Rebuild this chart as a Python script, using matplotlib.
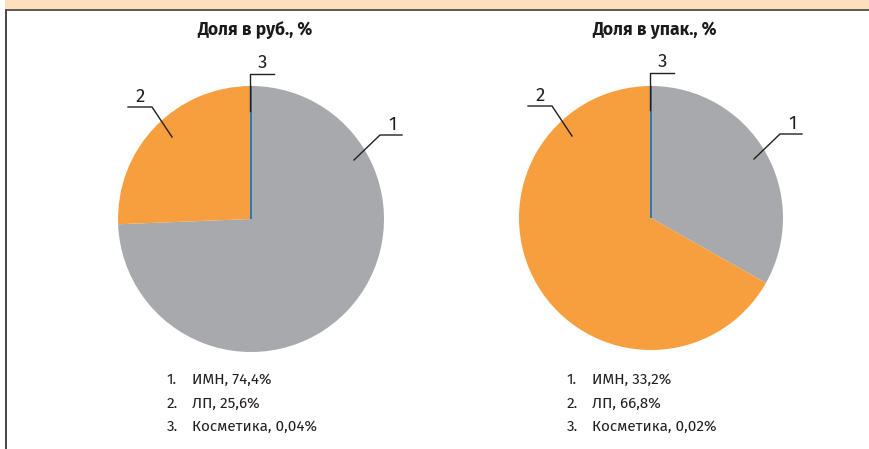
import matplotlib.pyplot as plt
from matplotlib.patches import Rectangle

# данные
titles = ['Доля в руб., %', 'Доля в упак., %']
categories = ['ИМН', 'ЛП', 'Косметика']
rub_values = [74.4, 25.6, 0.04]
pack_values = [33.2, 66.8, 0.02]
rub_labels = ['74,4%', '25,6%', '0,04%']
pack_labels = ['33,2%', '66,8%', '0,02%']

colors = ['#a7a9ac', '#f79f3e', '#2b7bba']
W, H = 870, 449

plt.rcParams['font.family'] = ['Fira Sans', 'Roboto', 'DejaVu Sans']

fig = plt.figure(figsize=(W / 100, H / 100), dpi=100)
ax = fig.add_axes([0, 0, 1, 1])

# рамка сверху и слева
ax.add_patch(Rectangle((5.5, H - 9), W, 9, color='#fddfbc', lw=0))
ax.add_patch(Rectangle((5.5, H - 11), W, 2, color='#5e5b58', lw=0))
ax.add_patch(Rectangle((5.3, 0), 1.5, H - 10, color='#4a4a4a', lw=0))

panels = [
    (rub_values, rub_labels, 251, H - 219, 133),
    (pack_values, pack_labels, 651, H - 218, 132),
]

for i, (vals, labs, cx, cy, r) in enumerate(panels):
    wedges, _ = ax.pie(vals, startangle=90, counterclock=False, colors=colors,
                       center=(cx, cy), radius=r,
                       wedgeprops=dict(linewidth=0))
    wedges[2].set_edgecolor(colors[2])
    wedges[2].set_linewidth(1.0)

    ax.text(cx + 4, H - 30, titles[i], ha='center', va='center',
            fontsize=12.5, fontweight='bold', color='#1a1a1a')

    # выноски
    leaders = [
        ([cx + 103, cx + 129, cx + 151], [cy + 59, cy + 84, cy + 84], cx + 141, cy + 94),
        ([cx - 79, cx - 99, cx - 123], [cy + 82, cy + 112, cy + 112], cx - 111, cy + 122),
        ([cx - 1, cx - 1, cx + 23], [cy + 108, cy + 145, cy + 145], cx + 11, cy + 156),
    ]
    for k, (xs, ys, tx, ty) in enumerate(leaders):
        ax.plot(xs, ys, color='#231f20', lw=1.0)
        ax.text(tx, ty, str(k + 1), ha='center', va='center', fontsize=13.5,
                color='#231f20')

    # подписи
    for k, (name, lab) in enumerate(zip(categories, labs)):
        y = H - 380 - k * 23.5
        ax.text(cx - 84, y, f'{k + 1}.', ha='left', va='center', fontsize=11,
                color='#231f20')
        ax.text(cx - 59, y, f'{name}, {lab}', ha='left', va='center',
                fontsize=11, color='#231f20')

ax.set_xlim(0, W)
ax.set_ylim(0, H)
ax.set_aspect('equal')
ax.axis('off')
fig.savefig('out.png', dpi=100)
